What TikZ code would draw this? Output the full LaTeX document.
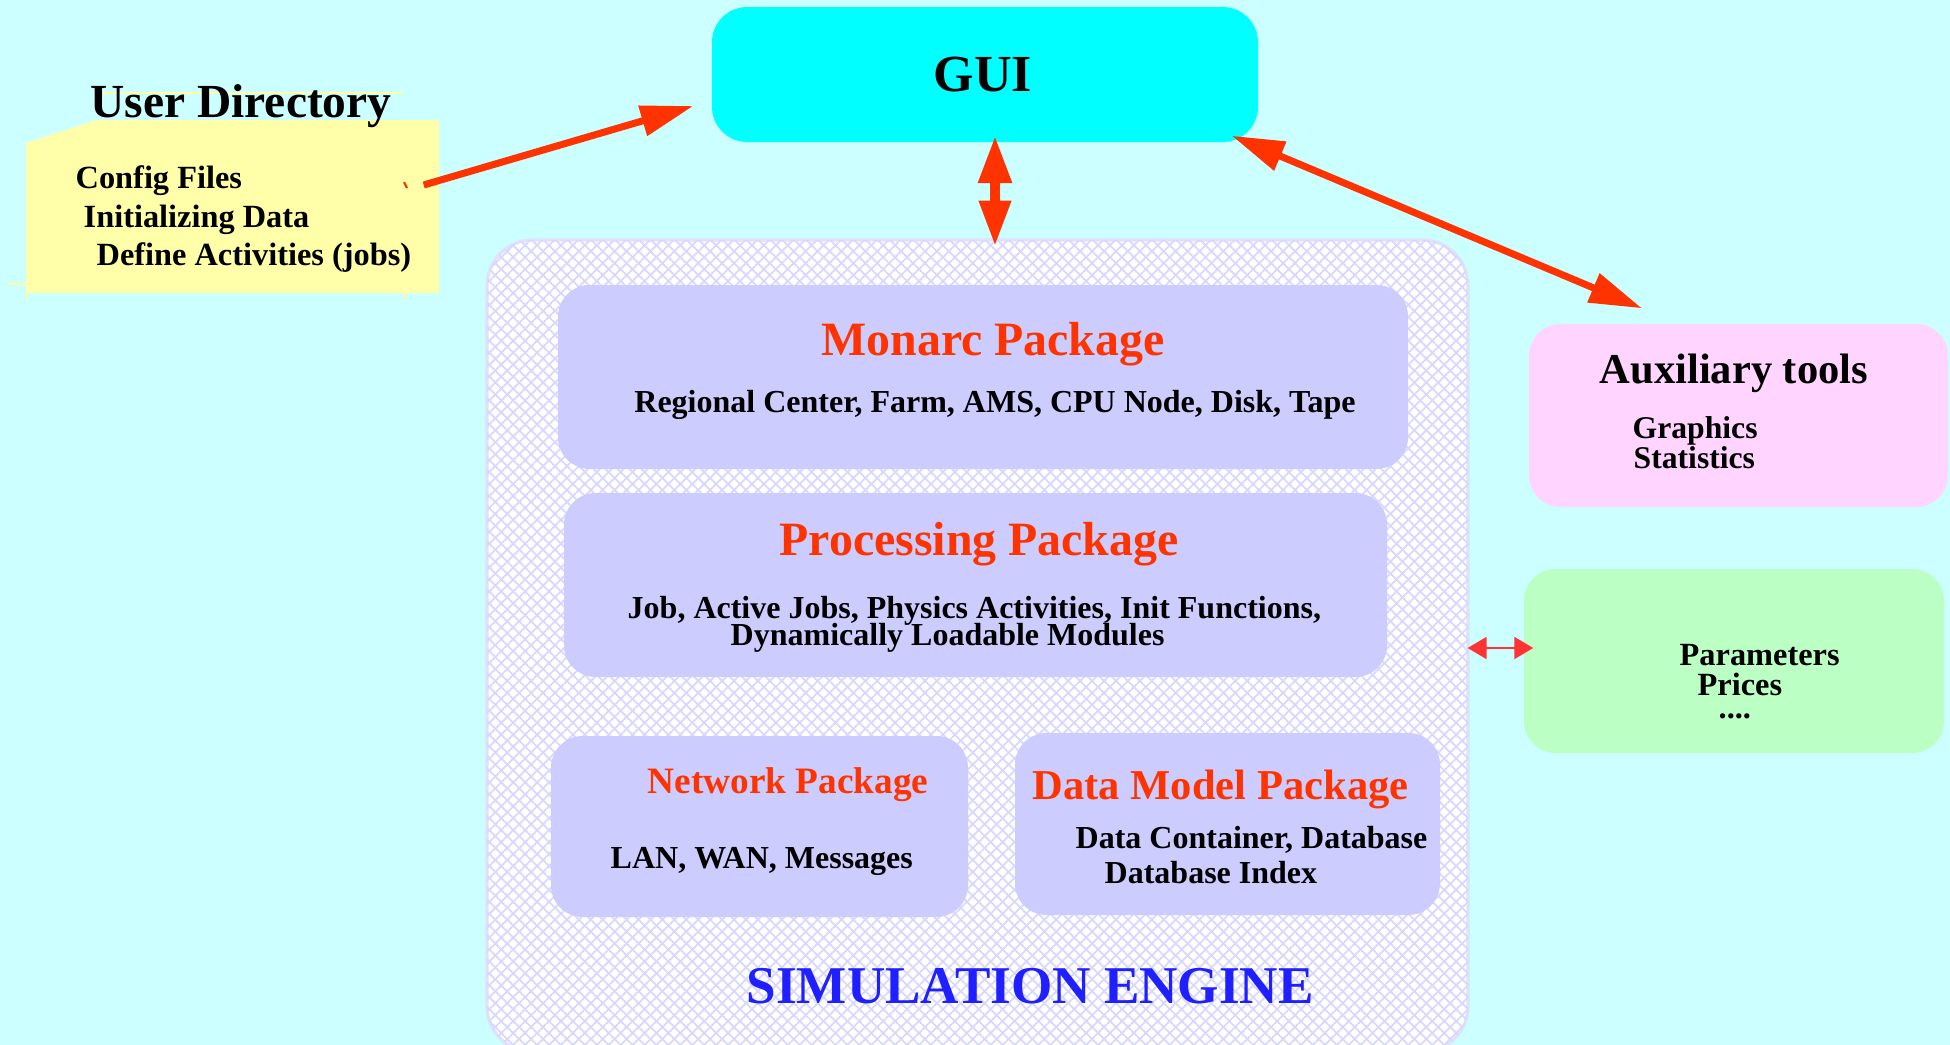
\documentclass[tikz,border=0pt]{standalone}
\usepackage{fontspec}
\setmainfont{Liberation Serif}
\usetikzlibrary{arrows.meta, fit, patterns.meta}
\definecolor{bgcyan}{HTML}{CCFFFF}
\definecolor{guicyan}{HTML}{00FFFF}
\definecolor{noteyellow}{HTML}{FFFFAA}
\definecolor{pkgblue}{HTML}{CCCCFF}
\definecolor{hatchblue}{HTML}{D8D8FF}
\definecolor{rimblue}{HTML}{E0E0FF}
\definecolor{auxpink}{HTML}{FFD5FF}
\definecolor{pargreen}{HTML}{BBFFC4}
\definecolor{arrowred}{HTML}{FF3300}
\definecolor{linkred}{HTML}{FF3333}
\definecolor{engineblue}{HTML}{1F1FFF}
\tikzset{
    panel/.style={fit={#1}, inner sep=0pt, rounded corners=9pt}, % box from two corners
    simfill/.style={fill=white,
        postaction={pattern={Lines[angle=45, distance=2.4pt, line width=0.5pt]}, pattern color=hatchblue},
        postaction={pattern={Lines[angle=-45, distance=2.4pt, line width=0.5pt]}, pattern color=hatchblue}},
    txt/.style={font=\bfseries\fontsize{#1}{#1}\selectfont, inner sep=0pt},
    bigarrow/.style={draw=arrowred, line width=2pt},
    bigtip/.tip={Triangle[length=15pt, width=8.5pt]},
    smalltip/.tip={Triangle[length=5.4pt, width=6.2pt]},
}

\begin{document}
\begin{tikzpicture}[x=0.01cm, y=-0.01cm]
        \useasboundingbox (0,0) rectangle (1950,1045);
        \fill[bgcyan] (0,0) rectangle (1950,1045);

        % user directory note
        \node[fit={(26,120) (439,293)}, inner sep=0pt] (userdir) {};
        \fill[noteyellow] (26,143) -- (97,120) -- (439,120) -- (439,293) -- (26,293) -- cycle;
        \draw[noteyellow, line width=0.6pt] (97,93) -- (403,93);
        \draw[noteyellow, line width=0.8pt] (8,284) -- (26,284) (27,293) -- (27,300) (405,293) -- (405,300);
        \draw[arrowred, line width=0.6pt] (404,182) -- (407,188);
        \node[txt=13.5, anchor=base] (udtitle) at (241,117) {User Directory};
        \node[txt=9.2, anchor=base west] (cfg) at (75,188) {Config Files};
        \node[txt=9.2, anchor=base west] (init) at (83,227) {Initializing Data};
        \node[txt=9.2, anchor=base west] (jobs) at (96,265) {Define Activities (jobs)};

        % gui
        \node[panel={(712,7) (1258,142)}, fill=guicyan, rounded corners=10pt] (gui) {};
        \node[txt=14.8, anchor=base] (guitext) at (983,91) {GUI};

        % simulation engine
        \node[panel={(487,240) (1468,1052)}, simfill, draw=rimblue, line width=0.9pt, rounded corners=13pt] (sim) {};
        \node[panel={(558,285) (1408,469)}, fill=pkgblue] (monarc) {};
        \node[txt=13.6, anchor=base, text=arrowred] (monarctitle) at (993,355) {Monarc Package};
        \node[txt=9.1, anchor=base] (monarcitems) at (995,412) {Regional Center, Farm, AMS, CPU Node, Disk, Tape};

        \node[panel={(564,493) (1387,677)}, fill=pkgblue] (proc) {};
        \node[txt=13.6, anchor=base, text=arrowred] (proctitle) at (979,555) {Processing Package};
        \node[txt=9.1, anchor=base west] (procitems) at (627,618) {Job, Active Jobs, Physics Activities, Init Functions,};
        \node[txt=9.1, anchor=base west] (procmods) at (730,645) {Dynamically Loadable Modules};

        \node[panel={(551,736) (968,917)}, fill=pkgblue] (net) {};
        \node[txt=10.6, anchor=base west, text=arrowred] (nettitle) at (647,793) {Network Package};
        \node[txt=9.1, anchor=base west] (netitems) at (610,868) {LAN, WAN, Messages};

        \node[panel={(1015,733) (1440,915)}, fill=pkgblue] (data) {};
        \node[txt=12.1, anchor=base west, text=arrowred] (datatitle) at (1032,799) {Data Model Package};
        \node[txt=9.1, anchor=base west] (dataitems) at (1075,848) {Data Container, Database};
        \node[txt=9.1, anchor=base west] (dataindex) at (1104,883) {Database Index};

        \node[txt=15.1, anchor=base west, text=engineblue] (simtitle) at (746,1003) {SIMULATION ENGINE};

        % side boxes
        \node[panel={(1529,324) (1948,507)}, fill=auxpink] (aux) {};
        \node[txt=12.1, anchor=base west] (auxtitle) at (1599,383) {Auxiliary tools};
        \node[txt=9, anchor=base west] (graph) at (1632,438) {Graphics};
        \node[txt=9, anchor=base west] (stat) at (1633,468) {Statistics};

        \node[panel={(1524,569) (1944,753)}, fill=pargreen] (params) {};
        \node[txt=9.2, anchor=base west] (partext) at (1679,665) {Parameters};
        \node[txt=9.2, anchor=base west] (prices) at (1697,695) {Prices};
        \node[txt=9.2, anchor=base west] (dots) at (1718,718) {....};

        % arrows
        \draw[bigarrow, -bigtip] ([shift={(-16,-21.5)}]userdir.east) -- ([shift={(-18,31.5)}]gui.west);
        \draw[bigarrow, line width=2.8pt, {Triangle[length=13.5pt, width=9pt]}-{Triangle[length=13pt, width=8.5pt]}]
            ([shift={(10,-7)}]gui.south) -- ([shift={(17.5,8)}]sim.north);
        \draw[bigarrow, bigtip-bigtip] ([shift={(-27,-7)}]gui.south east) -- ([shift={(-96.5,-15)}]aux.north);
        \draw[draw=linkred, line width=0.7pt, smalltip-smalltip]
            ([shift={(-2,2)}]sim.east) -- ([shift={(10,-13)}]params.west);
    \end{tikzpicture}
\end{document}
